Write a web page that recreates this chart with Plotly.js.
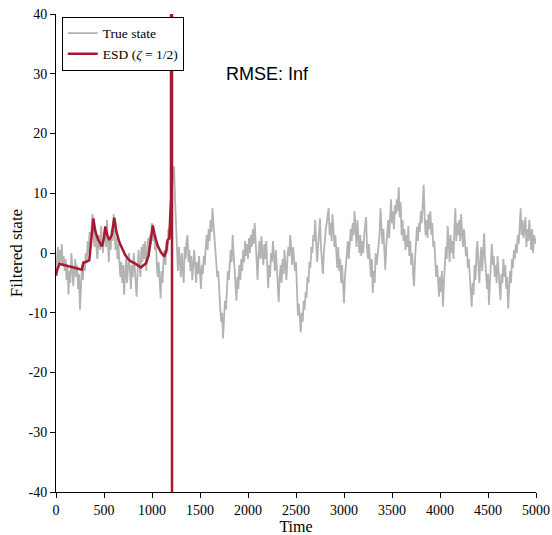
<!DOCTYPE html>
<html>
<head>
<meta charset="utf-8">
<script src="https://cdn.plot.ly/plotly-3.0.1.min.js"></script>
<style>html,body{margin:0;padding:0;background:#fff;}#chart{width:552px;height:535px;}</style>
</head>
<body>
<div id="chart"></div>
<script>
// Sampling interval of the true-state series (time units between stored samples)
const trueStep = 10;
// True state, every 10 time units (t = 0 ... 5000), one row per 100 time units
const trueState = [
  -3.5, -1, 1, -2, 0.5, -1.5, 1.5, -2, -0.5, -3,
  -1, -4.5, -2, -7, -3, -5, 0, -2.5, -5.5, -3,
  -1, -4, -2, -6, -3.5, -9.5, -5, -2, -4.5, -1.5,
  -3, 0, -1.5, 2, 0, 3.5, 1.5, 4, 6.5, 3,
  1, 4, 2, -1, 1.5, 3, 0.5, 4.5, 2, 0,
  3, 4.5, 1, 5.5, 2, -1.5, 2.5, 0.5, 4, 2,
  6.5, 3, 0.5, 2.5, -1, 1.5, -2, -4, -1.5, -5,
  -2, -7, -3.5, -1, -5, -2, 0, -3, -6, -2,
  -4, 0, -2.5, -5, -7.3, -3, 0.5, -2, -4, 1,
  -1.5, 1.5, -1, 2, -3, 0, 2.5, 0.5, 3, 1.5,
  5, 2, 4, 0.5, 3, -2, -4, -1.5, -5, -7.6,
  -3, -5, -1, 0.5, -2, 2, 0, 4, 3, 7,
  8, 11, 13, 14.5, 9, 4, -1, -3, 1, -1,
  -4, 0, -2, -5, 1, -1, 2, 3, -1.5, 0.5,
  -3, -0.5, -4.5, -1, 0.5, -2, -5, -1.5, -3.5, -0.5,
  -4, -6, -2, -3.5, -0.5, -2, 1, 3, 0.5, 4,
  2, 5.5, 3.5, 7.5, 5, 3, 1, -1.5, -4, -3,
  -7, -9, -11.5, -10, -14.3, -12, -8, -9.5, -5, -3,
  -4.5, -1, 0.5, -1.5, 3, 0, -2.5, -5, -8, -4,
  -6, -2, -4.5, -1, -3, 0.5, -1.5, 2, -0.5, 1.5,
  -1, 2.5, 0, 3, 1, 4, 1.5, 5, 2, -1,
  -4.5, 0, 2, -1, 2.8, 0, -2, 1.5, -1, 2,
  -3, -5.9, -2, -4, 0, -1.5, 2, -0.5, -3, 0.5,
  -2, -5.5, -8.2, -4, -2, -5, -1, -3.5, 0.5, -2,
  -4.5, -1, 1, -0.5, 3, 0.5, -2, 1, -1.5, -3,
  -1.5, -5, -10.5, -8.5, -12, -13.3, -10, -11.5, -8, -9.5,
  -6.5, -7.5, -4, -5, -1.5, -2.5, 1, 0, 3, 2,
  5.5, 2, -1.5, 1, 4, 5.8, 1, -1, -3.5, 0,
  2.5, 4, 5, 6, 7.5, 3, 5, 2, 6.5, 4,
  1, 3, -1, -2.5, 1, -3, -1, -5, -2, -6,
  -8.4, -4, -2, 0.5, 2, -1, 1.5, 4, 2, 5,
  3, 7, 4, 1, 5.5, 2, 0, 3, -0.5, 2,
  0, 3, 4.5, 6, 1, -1, 1.5, -2.5, -4, -1,
  -6.7, -3, -5, 0, -2, -0.5, 1, 3, 7.5, 4,
  1.5, 4, 0, -2.8, 1, 3, 5.5, 2.5, 6, 9,
  5, 7, 4, 8, 6.5, 9, 7, 11, 6, 8.5,
  3, 5.5, 2, 4, 0.5, 3, 1, 4.5, -0.5, 2,
  -2, 0, -3.5, -5.6, -1, 1.5, 4.4, 2, 5, 3.5,
  7, 5, 9, 11.4, 6, 3, 5.5, 2.5, 6.5, 4,
  7, 3, 5, 1, 2, -1, -4, -2, -6, -7.3,
  -4, -6.5, -3, -9, -5.5, -2, 1, -1, 4.5, 2,
  -1.5, 3, 0, 2, -1, 4, 7.5, 2, 5, 3,
  5.5, 2, 6.5, 3.5, 1, 4, 2, -0.5, 1, -2.5,
  -1, -4, -6.5, -9, -5, -7, -2, -4.5, 0, 2,
  -2, -5, -1, 1, -3, 0.5, 3.3, -1, -4, -6,
  -3.5, -8.7, -5, -1, 1.5, -2, -0.5, -4, -2, -5,
  -0.5, -3, -5.5, -7.9, -3.5, -5, -1, -4, -2, -6,
  -4, -9.3, -6, -3, -5, -1, -2.5, 0.5, -1, 1.5,
  0, 3, 1.5, 5, 7.5, 3, 5.5, 2.5, 5, 6,
  1, 4, 2, 5.5, 3, 0.5, 4, 0, 3, 2,
  1.5
];
// ESD filter estimate (diverges to infinity just after t = 1200)
const esdTime = [0, 10, 35, 80, 130, 180, 230, 270, 285, 312, 347, 365, 389, 410, 440, 479, 500, 514, 535, 556, 580, 607, 630, 660, 690, 720, 750, 780, 816, 850, 885, 915, 938, 965, 990, 1008, 1030, 1060, 1090, 1128, 1150, 1163, 1180, 1198, 1208, 1208.5];
const esdValue = [-3.8, -3.0, -1.8, -2.0, -2.2, -2.4, -2.6, -2.8, -1.6, -1.5, -1.2, 1.5, 5.8, 3.6, 2.2, 1.1, 2.6, 4.4, 2.9, 2.2, 3.0, 5.9, 3.5, 1.8, 0.6, -0.3, -1.0, -1.4, -1.7, -2.0, -2.4, -2.0, -1.7, -0.4, 3.0, 4.6, 2.8, 1.2, 0.2, -0.6, 0.5, 2.2, 2.4, 9.2, 1e4, -1e4];
const xTicks = [0, 500, 1000, 1500, 2000, 2500, 3000, 3500, 4000, 4500, 5000];
const xTickText = ['0', '500', '1000', '1500', '2000', '2500', '3000', '3500', '4000', '4500', '5000'];
const yTicks = [-40, -30, -20, -10, 0, 10, 20, 30, 40];
const yTickText = ['-40', '-30', '-20', '-10', '0', '10', '20', '30', '40'];
const seriesNames = ['True state', 'ESD (<i>ζ</i> = 1/2)'];
const rmseLabel = 'RMSE: Inf';

const trueTime = trueState.map((_, i) => i * trueStep);
const serif = 'Liberation Serif, Times New Roman, serif';

const traces = [
  {x: trueTime, y: trueState, type: 'scatter', mode: 'lines', name: seriesNames[0],
   line: {color: '#b3b3b3', width: 1.8}},
  {x: esdTime, y: esdValue, type: 'scatter', mode: 'lines', name: seriesNames[1],
   line: {color: '#a6192e', width: 2.5}}
];

const axisCommon = {
  showline: true, linecolor: '#000', linewidth: 1, ticks: 'outside', ticklen: 5,
  tickcolor: '#000', tickwidth: 1, showgrid: false, zeroline: false, mirror: false,
  tickfont: {family: serif, size: 14, color: '#000'}
};

const layout = {
  width: 552, height: 535,
  margin: {l: 56, r: 16, t: 14, b: 43},
  paper_bgcolor: '#fff', plot_bgcolor: '#fff',
  showlegend: true,
  xaxis: Object.assign({}, axisCommon, {
    range: [0, 5000], tickmode: 'array', tickvals: xTicks, ticktext: xTickText,
    title: {text: 'Time', font: {family: serif, size: 16, color: '#000'}, standoff: 4}
  }),
  yaxis: Object.assign({}, axisCommon, {
    range: [-40, 40], tickmode: 'array', tickvals: yTicks, ticktext: yTickText,
    title: {text: 'Filtered state', font: {family: serif, size: 17, color: '#000'}, standoff: 1}
  }),
  legend: {
    x: 0.012, y: 0.994, xanchor: 'left', yanchor: 'top',
    bgcolor: '#fff', bordercolor: '#000', borderwidth: 1,
    font: {family: serif, size: 13.5, color: '#000'},
    tracegroupgap: 0
  },
  annotations: [{
    x: 2198, y: 30, xref: 'x', yref: 'y', text: rmseLabel, showarrow: false,
    font: {family: 'Liberation Sans, Arial, sans-serif', size: 18, color: '#000'}
  }]
};

Plotly.newPlot('chart', traces, layout, {staticPlot: true, displayModeBar: false});
</script>
</body>
</html>
